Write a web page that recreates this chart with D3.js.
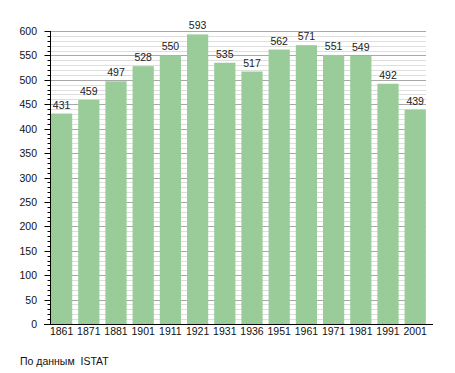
<!DOCTYPE html>
<html><head><meta charset="utf-8">
<script src="https://cdn.jsdelivr.net/npm/d3@7"></script>
<style>body{margin:0;background:#fff}svg{display:block}text{font-family:"Liberation Sans",Arial,sans-serif}</style>
</head><body>
<script>
const years = ["1861","1871","1881","1901","1911","1921","1931","1936","1951","1961","1971","1981","1991","2001"];
const population = [431,459,497,528,550,593,535,517,562,571,551,549,492,439];
const yMajorTicks = [0,50,100,150,200,250,300,350,400,450,500,550,600];
const sourceNote = "По данным  ISTAT";

const W = 455, H = 373;
const FS = 10.5;
const svg = d3.select("body").append("svg").attr("width", W).attr("height", H);

const x = d3.scaleBand().domain(years).range([48, 428.8]).paddingInner(0.22).paddingOuter(0.11);
const y = d3.scaleLinear().domain([0, 600]).range([324, 31]);

const minor = d3.range(0, 601, 10).filter(v => v % 50 !== 0);
// minor grid
svg.append("g").selectAll("line").data(minor).join("line")
  .attr("x1", 51).attr("x2", 426)
  .attr("y1", d => Math.round(y(d)) + 0.5).attr("y2", d => Math.round(y(d)) + 0.5)
  .attr("stroke", "#dedede").attr("stroke-width", 1);
// major grid
svg.append("g").selectAll("line").data(yMajorTicks.filter(v => v > 0)).join("line")
  .attr("x1", 51).attr("x2", 426)
  .attr("y1", d => Math.round(y(d)) + 0.5).attr("y2", d => Math.round(y(d)) + 0.5)
  .attr("stroke", "#a8a8a8").attr("stroke-width", 1);

// bars
svg.append("g").selectAll("rect").data(population).join("rect")
  .attr("x", (d, i) => x(years[i]))
  .attr("width", x.bandwidth())
  .attr("y", d => y(d))
  .attr("height", d => y(0) - y(d))
  .attr("fill", "#99cc99");

// value labels
svg.append("g").selectAll("text").data(population).join("text")
  .attr("x", (d, i) => x(years[i]) + x.bandwidth() / 2)
  .attr("y", d => y(d) - 5)
  .attr("text-anchor", "middle")
  .attr("font-size", FS).attr("fill", "#222")
  .text(d => d);

// y axis
const yAxis = svg.append("g");
yAxis.append("line").attr("x1", 50.5).attr("x2", 50.5).attr("y1", 31).attr("y2", 324).attr("stroke", "#000");
yAxis.selectAll("line.minor").data(minor).join("line").attr("class", "minor")
  .attr("x1", 47.5).attr("x2", 50.5)
  .attr("y1", d => Math.round(y(d)) + 0.5).attr("y2", d => Math.round(y(d)) + 0.5)
  .attr("stroke", "#000");
yAxis.selectAll("line.major").data(yMajorTicks).join("line").attr("class", "major")
  .attr("x1", 44.5).attr("x2", 50.5)
  .attr("y1", d => Math.round(y(d)) + 0.5).attr("y2", d => Math.round(y(d)) + 0.5)
  .attr("stroke", "#000");
yAxis.selectAll("text").data(yMajorTicks).join("text")
  .attr("x", 37).attr("y", d => y(d) + 4)
  .attr("text-anchor", "end").attr("font-size", FS).attr("fill", "#111")
  .text(d => d);

// x axis
svg.append("line").attr("x1", 44).attr("x2", 433).attr("y1", 324.5).attr("y2", 324.5).attr("stroke", "#000");
svg.append("g").selectAll("text").data(years).join("text")
  .attr("x", d => x(d) + x.bandwidth() / 2)
  .attr("y", 335)
  .attr("text-anchor", "middle").attr("font-size", FS).attr("fill", "#111")
  .text(d => d);

svg.append("text").attr("x", 20).attr("y", 365).attr("font-size", FS).attr("fill", "#111")
  .style("white-space", "pre").text(sourceNote);
</script>
</body></html>
